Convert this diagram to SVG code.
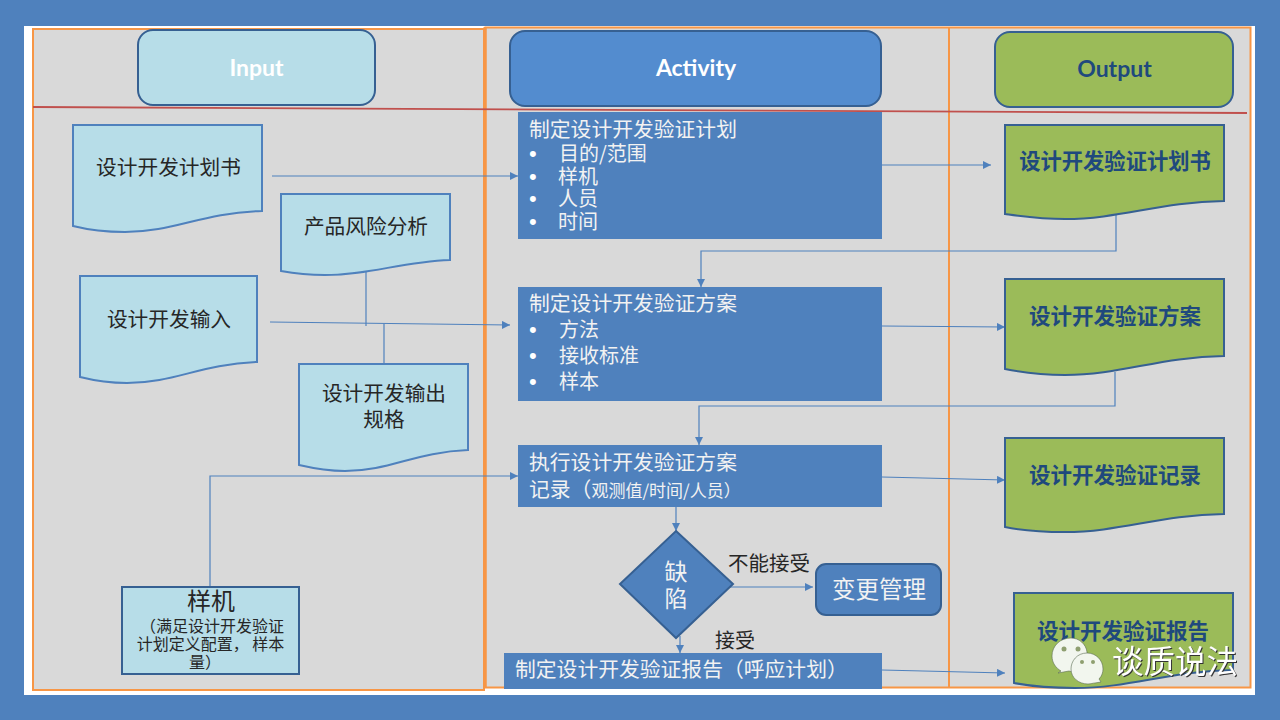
<svg xmlns="http://www.w3.org/2000/svg" width="1280" height="720" viewBox="0 0 1280 720">
<style>
text{font-family:"Noto Sans CJK SC","Noto Sans",sans-serif;font-size:20px;fill:#262626}
.c{text-anchor:middle}
.w{fill:#f2f2f2}
.b{font-family:"Liberation Sans",sans-serif;font-size:22px;fill:#fff}
.head{font-family:Lato,"Open Sans",sans-serif;font-size:23px;font-weight:700;text-anchor:middle}
.out{fill:#1f497d;font-weight:700;text-anchor:middle}
.sw{fill:none;stroke:#f79646}
.pill{stroke:#366092;stroke-width:2}
.in{fill:#b7dde8;stroke:#4f81bd;stroke-width:2}
.ot{fill:#9bbb59;stroke:#366092;stroke-width:2}
.ac{fill:#4f81bd}
.cn{fill:none;stroke:#4f81bd;stroke-width:1.2}
.ar{marker-end:url(#a)}
.bub{fill:#f2f6ee;stroke:#5a6b52;stroke-width:.6}
.eye{fill:#8f9f70}
</style>
<defs><marker id="a" markerUnits="userSpaceOnUse" markerWidth="9" markerHeight="9" refX="8" refY="4" orient="auto"><path d="M0,0L8,4L0,8Z" fill="#4f81bd"/></marker></defs>
<rect width="1280" height="720" fill="#4f81bd"/>
<rect x="24" y="26" width="1231" height="669" fill="#fff"/>
<g id="swimlanes">
<rect x="33" y="29" width="451" height="661" fill="#d9d9d9" stroke="#f79646" stroke-width="2"/>
<rect x="485" y="27" width="766" height="661" fill="#d9d9d9"/>
<rect x="485.500" y="27.500" width="765" height="660" class="sw" stroke-width="2"/>
<path d="M485,27V688" class="sw" stroke-width="3"/>
<path d="M949,27V688" class="sw" stroke-width="2"/>
<path d="M33,107L1247,113" fill="none" stroke="#c0504d" stroke-width="1.800"/>
</g>
<g id="connectors">
<path class="cn ar" d="M272,176H518"/>
<path class="cn ar" d="M882,165H991"/>
<path class="cn ar" d="M1116,215V251H701V287"/>
<path class="cn ar" d="M270,322L510,325"/>
<path class="cn" d="M366,272V326"/>
<path class="cn" d="M384,324V364"/>
<path class="cn ar" d="M882,326L1005,327"/>
<path class="cn ar" d="M1115,372V406H699V445"/>
<path class="cn ar" d="M210,587V476H518"/>
<path class="cn ar" d="M882,477L1005,480"/>
<path class="cn ar" d="M676,507V531"/>
<path class="cn ar" d="M730,587H813"/>
<path class="cn ar" d="M680,636V653"/>
<path class="cn ar" d="M882,670L1005,673"/>
</g>
<g id="input-header"><rect x="138" y="30" width="237" height="75" rx="15" fill="#b7dde8" class="pill"/><text x="256.500" y="76" class="head" style="fill:#fff">Input</text></g>
<g id="activity-header"><rect x="510" y="31" width="371" height="75" rx="15" fill="#538ccf" class="pill"/><text x="696" y="76" class="head" style="fill:#fff">Activity</text></g>
<g id="output-header"><rect x="995" y="32" width="238" height="75" rx="15" fill="#9bbb59" class="pill"/><text x="1114.500" y="77" class="head" style="fill:#1f497d">Output</text></g>
<g id="doc-plan"><path class="in" d="M73,125H262V211C200,213 175,232 125,232C100,232 85,229 73,226Z"/><text x="168.500" y="175" class="c" style="font-size:20.700px">设计开发计划书</text></g>
<g id="doc-risk"><path class="in" d="M281,194H450V260C400,262 370,275 325,275C305,275 292,273 281,271Z"/><text x="366" y="234" class="c" style="font-size:20.700px">产品风险分析</text></g>
<g id="doc-input"><path class="in" d="M80,276H257V362C200,364 175,383 127,383C105,383 92,380 80,377Z"/><text x="169" y="327" class="c" style="font-size:20.700px">设计开发输入</text></g>
<g id="doc-spec"><path class="in" d="M299,364H468V450C415,452 390,471 345,471C325,471 312,468 299,465Z"/><text class="c" style="font-size:20.700px"><tspan x="384" y="401">设计开发输出</tspan><tspan x="384" y="427">规格</tspan></text></g>
<g id="sample"><rect x="122" y="587" width="177" height="87" fill="#b7dde8" stroke="#366092" stroke-width="2"/><text class="c" style="font-size:16px"><tspan x="211" y="610" style="font-size:24px">样机</tspan><tspan x="212" y="632">（满足设计开发验证</tspan><tspan x="210.500" y="650">计划定义配置， 样本</tspan><tspan x="205" y="668">量）</tspan></text></g>
<g id="act-plan"><rect x="518" y="112" width="364" height="127" class="ac"/><text class="w"><tspan x="529" y="137" style="font-size:20.800px">制定设计开发验证计划</tspan><tspan x="529" y="161" class="b">•</tspan><tspan x="559" y="161">目的/范围</tspan><tspan x="529" y="184" class="b">•</tspan><tspan x="558" y="184">样机</tspan><tspan x="529" y="206" class="b">•</tspan><tspan x="558" y="206">人员</tspan><tspan x="529" y="229" class="b">•</tspan><tspan x="558" y="229">时间</tspan></text></g>
<g id="act-scheme"><rect x="518" y="287" width="364" height="114" class="ac"/><text class="w"><tspan x="529" y="311" style="font-size:20.800px">制定设计开发验证方案</tspan><tspan x="529" y="337" class="b">•</tspan><tspan x="559" y="337">方法</tspan><tspan x="529" y="363" class="b">•</tspan><tspan x="559" y="363">接收标准</tspan><tspan x="529" y="389" class="b">•</tspan><tspan x="559" y="389">样本</tspan></text></g>
<g id="act-exec"><rect x="518" y="445" width="364" height="62" class="ac"/><text class="w" style="font-size:20.800px"><tspan x="529" y="470">执行设计开发验证方案</tspan><tspan x="529" y="497">记录（<tspan style="font-size:17px">观测值/时间/人员）</tspan></tspan></text></g>
<g id="decision"><path d="M676,531L733,584L676,638L620,584Z" fill="#4f81bd" stroke="#366092" stroke-width="2"/><text class="c w" style="font-size:23px"><tspan x="676" y="580">缺</tspan><tspan x="676" y="607">陷</tspan></text></g>
<g id="change"><rect x="816" y="564" width="125" height="51" rx="10" fill="#4f81bd" stroke="#366092" stroke-width="2"/><text x="879" y="598" class="c w" style="font-size:23.500px">变更管理</text></g>
<g id="act-report"><rect x="504" y="653" width="378" height="36" class="ac"/><text x="515" y="677" class="w" style="font-size:20.800px">制定设计开发验证报告（呼应计划）</text></g>
<g id="labels"><text x="728" y="571" style="font-size:20.500px">不能接受</text><text x="715" y="648" style="font-size:20px">接受</text></g>
<g id="out-plan"><path class="ot" d="M1005,125H1224V201C1160,202 1120,219 1065,219C1040,219 1020,216 1005,214Z"/><text x="1115" y="169" class="out" style="font-size:21.300px">设计开发验证计划书</text></g>
<g id="out-scheme"><path class="ot" d="M1005,279H1224V356C1160,357 1120,375 1065,375C1040,375 1020,372 1005,369Z"/><text x="1115" y="324" class="out" style="font-size:21.500px">设计开发验证方案</text></g>
<g id="out-record"><path class="ot" d="M1005,438H1224V514C1160,515 1120,532 1065,532C1040,532 1020,530 1005,527Z"/><text x="1115" y="483" class="out" style="font-size:21.500px">设计开发验证记录</text></g>
<g id="out-report"><path class="ot" d="M1014,593H1233V670C1170,671 1130,688 1075,688C1050,688 1030,686 1014,683Z"/><text x="1123" y="639" class="out" style="font-size:21.500px">设计开发验证报告</text></g>
<g id="watermark">
<path class="bub" d="M1071,638C1060,638 1052,646 1052,656C1052,663 1056,668 1061,671L1058,673L1069,671C1072,672 1075,672 1078,671C1085,668 1088,660 1087,652C1086,644 1079,638 1071,638Z"/>
<path class="bub" d="M1087,653C1077,653 1071,661 1071,669C1071,678 1079,684 1088,684C1091,684 1093,683 1095,683L1101,682L1099,679C1102,676 1103,672 1103,669C1103,660 1096,653 1087,653Z"/>
<circle class="eye" cx="1064" cy="649" r="2.500"/><circle class="eye" cx="1078" cy="649" r="2.500"/><circle class="eye" cx="1082" cy="662" r="2"/><circle class="eye" cx="1093" cy="662" r="2"/>
<text x="1112" y="673" style="font-size:31.500px;fill:#fff;filter:drop-shadow(1px 1px 0 #333)">谈质说法</text>
</g>
</svg>
